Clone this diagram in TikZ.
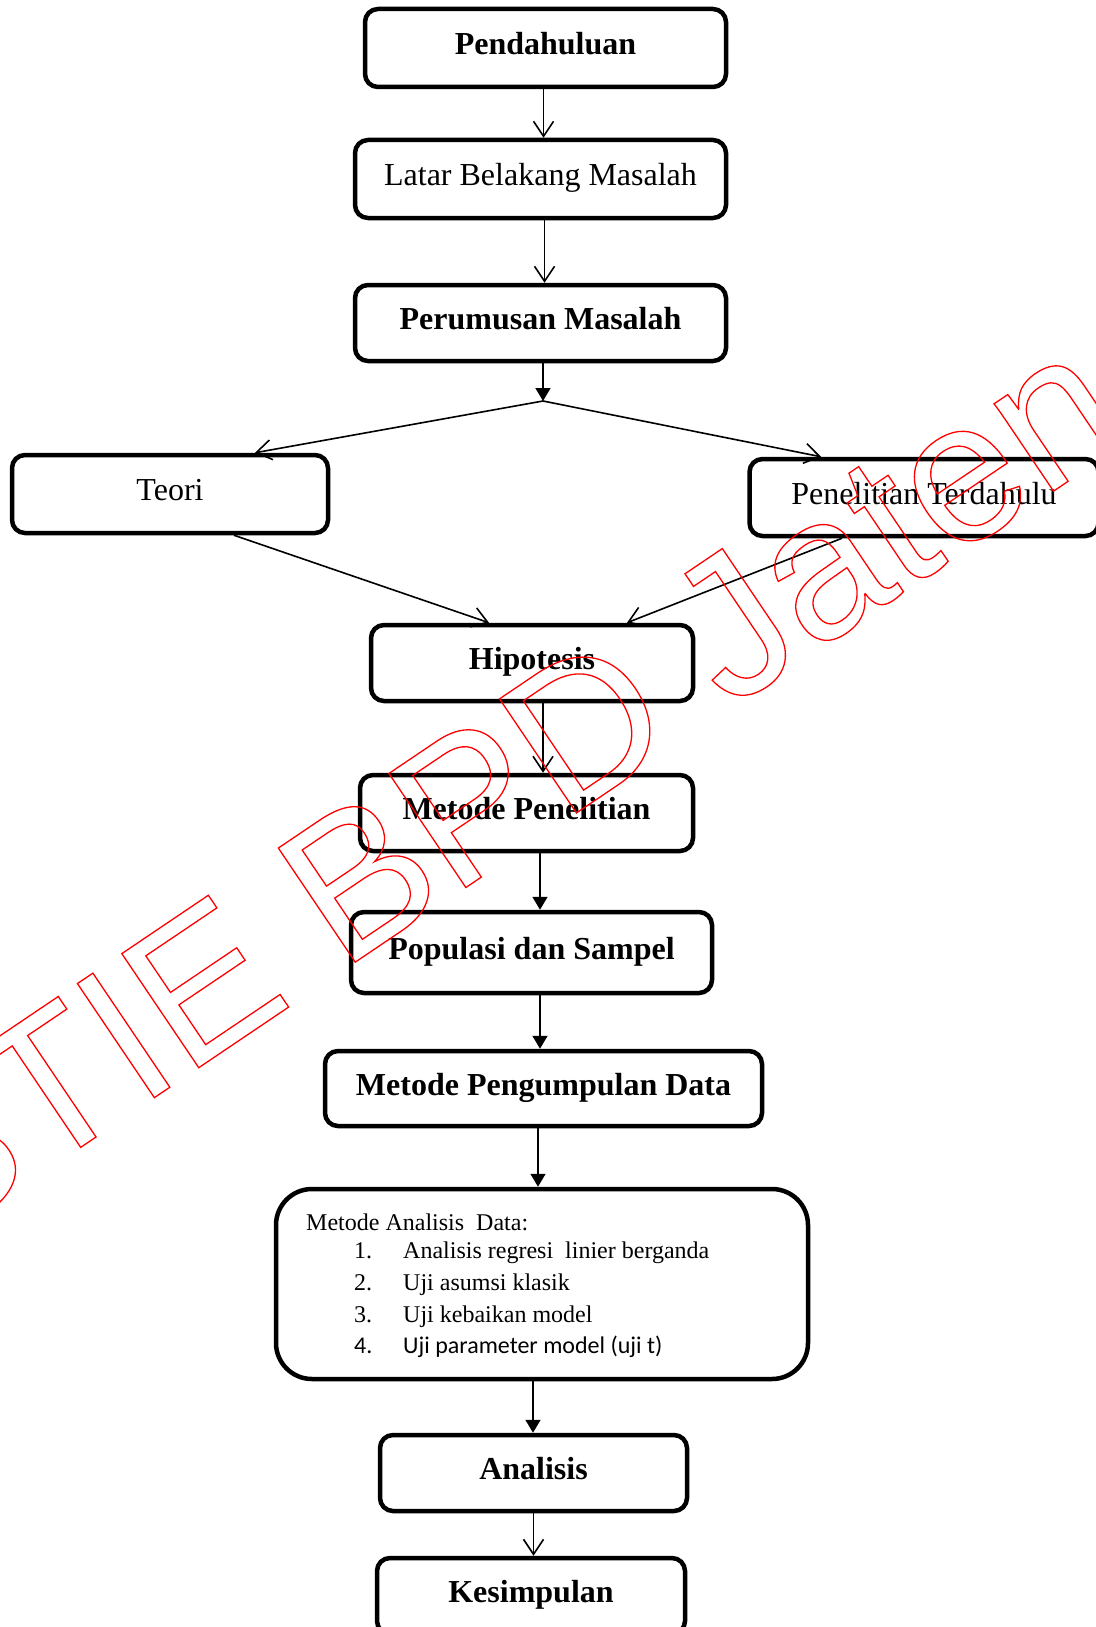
\documentclass[tikz,border=0pt]{standalone}
\usepackage{fontspec}
\setmainfont{Liberation Serif}
\newfontfamily\calib{Carlito}
\newfontfamily\wmfont{Liberation Sans}
\usetikzlibrary{arrows.meta}
\tikzset{
  box/.style={draw, line width=4.5pt, rounded corners=13pt, align=center, inner sep=0pt,
    text height=21pt, text depth=8pt, font=\fontsize{32}{38}\selectfont},
  bbox/.style={box, font=\fontsize{32}{38}\selectfont\bfseries},
  conn/.style={line width=1.6pt},
  oarrow/.style={conn, -{Straight Barb[length=15pt,width=20pt]}},
  farrow/.style={conn, -{Triangle[length=13pt,width=15pt]}},
  small/.style={anchor=base west, inner sep=0pt, font=\fontsize{24}{28}\selectfont},
  wmark/.style={anchor=base west, inner sep=0pt, text=red, font=\wmfont\fontsize{200}{240}\selectfont},
}
\newcommand\outlinetxt[1]{\special{pdf:literal direct 1 Tr 1.3 w 1 0 0 RG}#1\special{pdf:literal direct 0 Tr}}
\begin{document}
\begin{tikzpicture}[x=1pt,y=-1pt]
\useasboundingbox (0,0) rectangle (1095,1627);
\fill[white] (0,0) rectangle (1095,1627);

\node[bbox, minimum width=361pt, minimum height=78pt] (pend) at (545.5,48) {Pendahuluan};
\node[box, minimum width=371pt, minimum height=78pt] (latar) at (540.5,179) {Latar Belakang Masalah};
\node[bbox, minimum width=371pt, minimum height=76pt] (perum) at (540.5,323) {Perumusan Masalah};
\node[box, minimum width=316pt, minimum height=78pt] (teori) at (170,494) {Teori};
\node[box, minimum width=349pt, minimum height=77pt] (pen) at (924,497.5) {Penelitian Terdahulu};
\node[bbox, minimum width=322pt, minimum height=76pt] (hip) at (532,663) {Hipotesis};
\node[bbox, minimum width=333pt, minimum height=76pt] (mp) at (526.5,813) {Metode Penelitian};
\node[bbox, minimum width=361pt, minimum height=81pt] (pop) at (531.5,952.5) {Populasi dan Sampel};
\node[bbox, minimum width=437pt, minimum height=75pt] (mpd) at (543.5,1088.5) {Metode Pengumpulan Data};
\node[box, rounded corners=36pt, minimum width=532pt, minimum height=190pt] (mad) at (542,1284) {};
\node[bbox, minimum width=307pt, minimum height=76pt] (ana) at (533.5,1473) {Analisis};
\node[bbox, minimum width=308pt, minimum height=76pt] (kes) at (531,1596) {Kesimpulan};

\node[small] (madh) at (306,1230) {Metode Analisis~ Data:};
\node[small] (n1) at (354,1258) {1.};
\node[small] (i1) at (403,1258) {Analisis regresi~ linier berganda};
\node[small] (n2) at (354,1290) {2.};
\node[small] (i2) at (403,1290) {Uji asumsi klasik};
\node[small] (n3) at (354,1322) {3.};
\node[small] (i3) at (403,1322) {Uji kebaikan model};
\node[small, font=\calib\fontsize{24}{28}\selectfont] (n4) at (354,1353) {4.};
\node[small, font=\calib\fontsize{24}{28}\selectfont] (i4) at (403,1353) {Uji parameter model (uji t)};

\coordinate (split) at (543,401);

\draw[oarrow] ([xshift=-2pt]pend.south) -- ([xshift=-2pt]pend.south |- latar.north);
\draw[oarrow] ([xshift=4pt]latar.south) -- ([xshift=4pt]latar.south |- perum.north);
\draw[farrow] (perum.south -| split) -- (split);
\draw[oarrow] (split) -- ([xshift=85pt]teori.north);
\draw[oarrow] (split) -- ([xshift=-103pt]pen.north);
\draw[oarrow] ([xshift=64pt]teori.south) -- ([xshift=-43pt]hip.north);
\draw[oarrow] ([xshift=-82pt]pen.south) -- ([xshift=95pt]hip.north);
\draw[oarrow] ([xshift=11pt]hip.south) -- ([xshift=11pt]hip.south |- mp.north);
\draw[farrow] ([xshift=13.5pt]mp.south) -- ([xshift=13.5pt]mp.south |- pop.north);
\draw[farrow] ([xshift=8.5pt]pop.south) -- ([xshift=8.5pt]pop.south |- mpd.north);
\draw[farrow] ([xshift=-5.5pt]mpd.south) -- ([xshift=-5.5pt]mpd.south |- mad.north);
\draw[farrow] ([xshift=-9pt]mad.south) -- ([xshift=-9pt]mad.south |- ana.north);
\draw[oarrow] (ana.south) -- (ana.south |- kes.north);

\node[wmark, rotate=34] (wm) at (-73,1251) {\outlinetxt{STIE BPD Jateng}};
\end{tikzpicture}
\end{document}
